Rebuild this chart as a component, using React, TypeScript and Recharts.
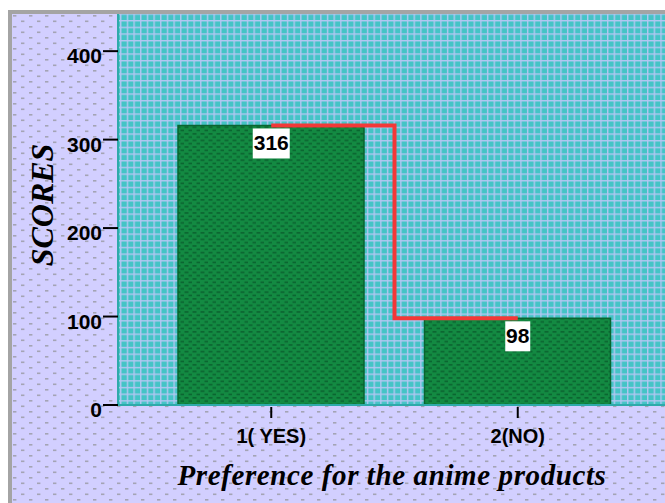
import React from "react";
import {
  ComposedChart,
  Bar,
  Line,
  XAxis,
  YAxis,
  CartesianGrid,
  LabelList,
  Label,
} from "recharts";

// values
const categories = ["1( YES)", "2(NO)"];
const scores = [316, 98];
const yTicks = [0, 100, 200, 300, 400];

const data = categories.map((name, i) => ({ name, score: scores[i] }));

const lavenderBg =
  "url(\"data:image/svg+xml;utf8," +
  encodeURIComponent(
    "<svg xmlns='http://www.w3.org/2000/svg' width='16' height='11'>" +
      "<rect width='16' height='11' fill='#d2cfff'/>" +
      "<rect x='1' y='1' width='3.4' height='1.6' fill='#a4a4b4'/>" +
      "<rect x='9' y='6.5' width='3.4' height='1.6' fill='#a4a4b4'/>" +
      "</svg>"
  ) +
  "\")";

const sansFont = "'Liberation Sans', Arial, sans-serif";
const serifFont = "'Liberation Serif', 'Times New Roman', serif";

const YTick = (props: any) => {
  const { x, y, payload } = props;
  return (
    <g>
      <line x1={x - 15} x2={x} y1={y} y2={y} stroke="#000" strokeWidth={2} />
      <text
        x={x - 16}
        y={y}
        dy={12}
        textAnchor="end"
        fontFamily={sansFont}
        fontWeight="bold"
        fontSize={21}
        fill="#000"
      >
        {payload.value}
      </text>
    </g>
  );
};

const XTick = (props: any) => {
  const { x, y, payload } = props;
  return (
    <g>
      <line x1={x} x2={x} y1={y + 2} y2={y + 13} stroke="#000" strokeWidth={2} />
      <text
        x={x}
        y={y + 38}
        textAnchor="middle"
        fontFamily={sansFont}
        fontWeight="bold"
        fontSize={20}
        fill="#000"
      >
        {payload.value}
      </text>
    </g>
  );
};

const ValueBox = (props: any) => {
  const { x, y, value } = props;
  const w = String(value).length * 12 + 1;
  const top = y + 3;
  return (
    <g>
      <rect x={x - w / 2} y={top} width={w} height={30} fill="#fff" />
      <text
        x={x}
        y={top + 22}
        textAnchor="middle"
        fontFamily={sansFont}
        fontWeight="bold"
        fontSize={21}
        fill="#000"
      >
        {value}
      </text>
    </g>
  );
};

export default function App() {
  return (
    <div
      style={{
        position: "fixed",
        left: 0,
        top: 0,
        width: 665,
        height: 503,
        overflow: "hidden",
        background: "#fff",
      }}
    >
      <div
        style={{
          position: "absolute",
          left: 8,
          top: 10,
          width: 700,
          height: 540,
          borderLeft: "4px solid #a4a4a4",
          borderTop: "4px solid #a4a4a4",
          backgroundColor: "#d2cfff",
          backgroundImage: lavenderBg,
        }}
      />
      <svg width={0} height={0} style={{ position: "absolute" }}>
        <defs>
          <pattern id="tealGrid" width={6.67} height={6.67} patternUnits="userSpaceOnUse">
            <rect width={6.67} height={6.67} fill="#44c4c6" />
            <rect width={6.67} height={1.4} fill="#b2c6f2" />
            <rect width={1.4} height={6.67} fill="#b2c6f2" />
          </pattern>
          <pattern id="greenBar" width={8} height={6.6} patternUnits="userSpaceOnUse">
            <rect width={8} height={6.6} fill="#138a42" />
            <rect x={0.5} y={1} width={4} height={1.6} fill="#0b6430" />
            <rect x={4.5} y={4.3} width={4} height={1.6} fill="#0b6430" />
          </pattern>
        </defs>
      </svg>
      <div style={{ position: "absolute", left: 0, top: 0 }}>
        <ComposedChart
          width={680}
          height={503}
          data={data}
          margin={{ top: 14, right: 9, bottom: 38, left: 58 }}
        >
          <CartesianGrid horizontal={false} vertical={false} fill="url(#tealGrid)" />
          <XAxis
            dataKey="name"
            interval={0}
            padding={{ left: 30, right: 30 }}
            height={60}
            axisLine={{ stroke: "#2eaaaa", strokeWidth: 2 }}
            tickLine={false}
            tickSize={0}
            tickMargin={0}
            tick={<XTick />}
          >
            <Label
              content={() => (
                <text
                  x={392}
                  y={485}
                  textAnchor="middle"
                  fontFamily={serifFont}
                  fontStyle="italic"
                  fontWeight="bold"
                  fontSize={29}
                  letterSpacing={0.6}
                  fill="#000"
                >
                  Preference for the anime products
                </text>
              )}
            />
          </XAxis>
          <YAxis
            type="number"
            domain={[0, 442]}
            ticks={yTicks}
            width={60}
            axisLine={{ stroke: "#2eaaaa", strokeWidth: 2 }}
            tickLine={false}
            tickSize={0}
            tickMargin={0}
            tick={<YTick />}
          >
            <Label
              content={() => (
                <text
                  x={53}
                  y={205}
                  transform="rotate(-90 53 205)"
                  textAnchor="middle"
                  fontFamily={serifFont}
                  fontStyle="italic"
                  fontWeight="bold"
                  fontSize={32}
                  fill="#000"
                >
                  SCORES
                </text>
              )}
            />
          </YAxis>
          <Bar
            dataKey="score"
            barSize={186}
            fill="url(#greenBar)"
            stroke="#0a6430"
            strokeWidth={1.5}
            isAnimationActive={false}
          />
          <Line
            type="step"
            dataKey="score"
            stroke="#f23838"
            strokeWidth={4}
            dot={false}
            activeDot={false}
            isAnimationActive={false}
          />
          <Line
            dataKey="score"
            stroke="none"
            dot={false}
            activeDot={false}
            isAnimationActive={false}
          >
            <LabelList dataKey="score" content={<ValueBox />} />
          </Line>
        </ComposedChart>
      </div>
    </div>
  );
}
